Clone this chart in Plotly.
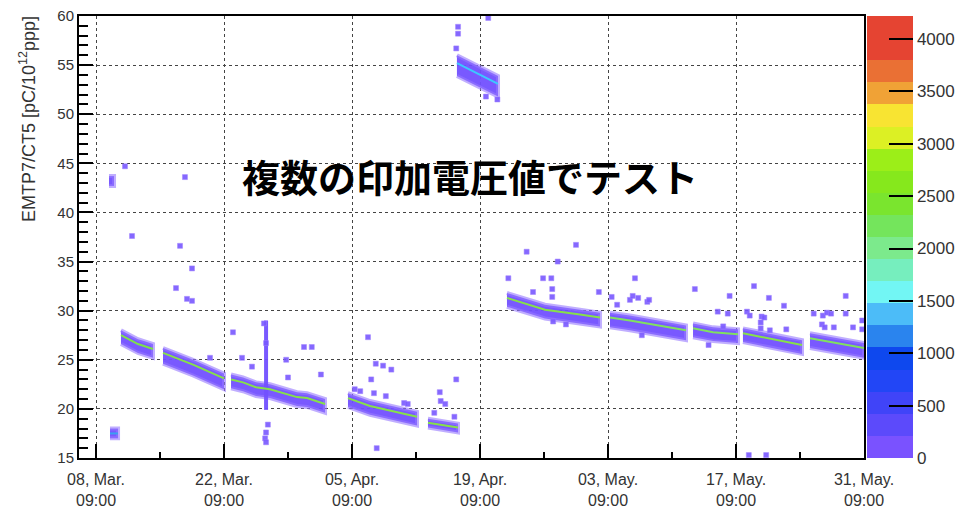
import pandas as pd
import plotly.graph_objects as go

# ---------------- data ----------------
base_time = pd.Timestamp("2016-03-08 09:00")   # first labelled tick
x_range_days = [-1.86, 84.0]
y_range = [15, 60]

# dense bands: centre-line points (day offset from base, value) + spread above / below
seg_days = [
    [1.53, 2.41],
    [1.42, 1.97],
    [2.73, 4.59, 5.25, 6.23],
    [7.33, 10.61, 14.0],
    [14.77, 16.08, 17.5, 19.03, 21.98, 23.08, 25.05],
    [27.56, 29.97, 35.11],
    [36.31, 39.59],
    [39.48, 41.78, 43.97],
    [44.95, 49.11, 52.94, 55.12],
    [56.22, 58.4, 64.53],
    [65.3, 67.49, 70.22],
    [70.76, 73.39, 77.22],
    [78.09, 80.6, 84.0],
]
seg_vals = [
    [17.5, 17.5],
    [43.2, 43.2],
    [27.5, 26.6, 26.4, 26.1],
    [25.7, 24.5, 23.1],
    [23.0, 22.7, 22.2, 22.0, 21.2, 21.1, 20.5],
    [21.1, 20.3, 19.2],
    [18.6, 18.1],
    [55.2, 54.1, 53.1],
    [31.3, 30.1, 29.6, 29.3],
    [29.3, 29.0, 28.0],
    [28.2, 27.8, 27.6],
    [27.7, 27.2, 26.5],
    [27.2, 26.8, 26.2],
]
seg_up = [0.5, 0.5, 0.5, 0.5, 0.5, 0.5, 0.4, 0.8, 0.5, 0.5, 0.5, 0.5, 0.5]
seg_dn = [0.5, 0.5, 0.9, 1.1, 0.9, 0.9, 0.5, 1.3, 0.9, 1.0, 0.9, 0.9, 1.0]

# vertical spike of entries
spike_day = [18.6]
spike_lo = [19.9]
spike_hi = [29.0]

# isolated entries
out_day = [3.17, 9.73, 3.94, 9.19, 10.5, 8.75, 9.95, 10.5, 12.47, 14.98, 18.37, 18.6,
           15.97, 17.06, 18.8, 18.6, 18.5, 18.6, 29.75, 22.75, 23.6, 20.8, 21.0, 24.6,
           30.6, 31.4, 32.3, 30.1, 30.4, 31.7, 33.7, 34.1, 30.7, 37.0, 37.6, 37.7, 38.2,
           39.2, 39.4, 28.3, 28.9, 39.6, 39.6, 39.4, 42.9, 43.9, 42.65, 45.1, 47.1, 52.5,
           50.5, 47.8, 48.9, 49.8, 49.9, 49.9, 50.0, 51.4, 55.0, 56.4, 57.0, 58.4, 58.7,
           58.95, 59.3, 60.3, 60.5, 59.7, 65.5, 69.3, 71.97, 73.6, 75.25, 68.0, 69.1,
           71.2, 71.5, 72.8, 73.1, 72.7, 72.7, 73.7, 75.5, 68.6, 67.0, 78.5, 79.5, 79.95,
           80.4, 80.7, 79.4, 79.7, 82.0, 82.0, 82.8, 83.8, 83.8, 71.4, 73.3]
out_val = [44.7, 43.6, 37.6, 36.6, 34.3, 32.3, 31.2, 31.0, 25.2, 27.8, 28.7, 26.7,
           25.2, 24.3, 18.4, 17.6, 17.0, 16.6, 27.3, 26.3, 26.3, 25.0, 23.2, 23.5,
           24.6, 24.4, 24.0, 23.0, 21.6, 21.3, 20.6, 20.5, 16.0, 19.6, 21.7, 20.8, 20.5,
           19.2, 23.0, 22.0, 21.8, 58.9, 58.2, 56.7, 59.8, 51.5, 51.8, 33.3, 36.0, 36.7,
           35.0, 31.9, 33.3, 33.3, 32.2, 31.4, 28.9, 28.6, 31.9, 31.4, 30.6, 31.1, 31.5,
           33.3, 31.3, 30.9, 31.1, 27.5, 32.2, 31.5, 32.5, 31.3, 30.5, 29.9, 29.7,
           29.9, 29.5, 29.4, 29.3, 28.8, 28.2, 28.0, 28.1, 28.4, 26.5, 29.7, 29.5, 29.8,
           29.7, 28.3, 28.6, 28.3, 31.5, 29.7, 28.3, 29.0, 28.1, 15.3, 15.3]

# x tick labels
tick_days = [0, 14, 28, 42, 56, 70, 84]
tick_text = ["08, Mar.<br>09:00", "22, Mar.<br>09:00", "05, Apr.<br>09:00",
             "19, Apr.<br>09:00", "03, May.<br>09:00", "17, May.<br>09:00",
             "31, May.<br>09:00"]

# colour scale (z axis)
z_max = 4220
z_ticks = [0, 500, 1000, 1500, 2000, 2500, 3000, 3500, 4000]
palette = ["#7a52ff", "#5c4afb", "#4044f8", "#2246f6", "#0e48ee", "#2a84ee",
           "#4cbcf8", "#72f6f4", "#76eebe", "#7cea8c", "#74e55c", "#7ae52e",
           "#86e81c", "#9cee18", "#dcf024", "#f8e432", "#f0a236", "#ea7034",
           "#e54432", "#e54432"]

# ---------------- styles ----------------
band_fill = "rgba(114,80,255,0.95)"
band_edge = "rgba(150,120,255,0.6)"
centre_cols = ["#3aa0f0", None, "#7ee04a", "#86e04a", "#86e04a", "#86e04a", "#86e04a",
               "#3cc8ff", "#86e04a", "#80e060", "#80e060", "#86e04a", "#80e060"]

PLOT_L, PLOT_R, PLOT_T, PLOT_B = 79, 864, 16, 458
W, H = 963, 511
PW, PH = PLOT_R - PLOT_L, PLOT_B - PLOT_T


def to_time(days):
    return [base_time + pd.to_timedelta(d, unit="D") for d in days]


fig = go.Figure()

for i, (dd, vv) in enumerate(zip(seg_days, seg_vals)):
    xs = to_time(dd + dd[::-1])
    ys = [v + seg_up[i] for v in vv] + [v - seg_dn[i] for v in vv[::-1]]
    fig.add_trace(go.Scatter(x=xs, y=ys, fill="toself", fillcolor=band_fill,
                             mode="lines", line=dict(color=band_edge, width=4),
                             hoverinfo="skip", showlegend=False))

for d, lo, hi in zip(spike_day, spike_lo, spike_hi):
    fig.add_trace(go.Scatter(x=to_time([d, d]), y=[lo, hi], mode="lines",
                             line=dict(color=band_fill, width=4),
                             hoverinfo="skip", showlegend=False))

fig.add_trace(go.Scatter(x=to_time(out_day), y=out_val, mode="markers",
                         marker=dict(symbol="square", size=5, color="rgba(120,88,255,0.9)",
                                     line=dict(width=1, color="rgba(160,130,255,0.5)")),
                         hoverinfo="skip", showlegend=False))

for i, (dd, vv) in enumerate(zip(seg_days, seg_vals)):
    if centre_cols[i] is None:
        continue
    fig.add_trace(go.Scatter(x=to_time(dd), y=vv, mode="lines",
                             line=dict(color=centre_cols[i], width=2),
                             hoverinfo="skip", showlegend=False))

# colour bar carrier
n = len(palette)
cscale = []
for k, c in enumerate(palette):
    cscale.append([k / n, c])
    cscale.append([(k + 1) / n, c])
fig.add_trace(go.Scatter(
    x=to_time([0, 0]), y=[15, 15], mode="markers",
    marker=dict(size=1, opacity=0, color=[0, z_max], cmin=0, cmax=z_max,
                colorscale=cscale, showscale=True,
                colorbar=dict(x=(867 - PLOT_L) / PW, xanchor="left", xref="paper",
                              y=0.5, yanchor="middle", len=1, lenmode="fraction",
                              thickness=46, thicknessmode="pixels", xpad=0, ypad=0,
                              outlinewidth=0, ticks="inside", ticklen=24,
                              tickcolor="black", tickwidth=1.5,
                              tickvals=z_ticks,
                              tickfont=dict(family="Liberation Sans", size=17, color="#333"))),
    hoverinfo="skip", showlegend=False))

fig.update_layout(
    width=W, height=H,
    margin=dict(l=PLOT_L, r=W - PLOT_R, t=PLOT_T, b=H - PLOT_B, autoexpand=False),
    paper_bgcolor="white", plot_bgcolor="white",
    font=dict(family="Liberation Sans", color="#333"),
    xaxis=dict(type="date",
               range=to_time(x_range_days),
               tickmode="array", tickvals=to_time(tick_days), ticktext=tick_text,
               ticks="inside", ticklen=14, tickcolor="black", tickwidth=1.5,
               minor=dict(tickmode="linear", tick0=base_time, dtick=7 * 86400000,
                          ticks="inside", ticklen=6, tickcolor="black", showgrid=False),
               showgrid=True, gridcolor="#444", griddash="dot", gridwidth=1,
               showline=True, linecolor="black", linewidth=2, mirror=True,
               ticklabelstandoff=6,
               tickfont=dict(size=16, color="#333"), zeroline=False),
    yaxis=dict(range=y_range, tickmode="linear", tick0=15, dtick=5,
               ticks="inside", ticklen=14, tickcolor="black", tickwidth=1.5,
               minor=dict(dtick=1, ticks="inside", ticklen=9, tickcolor="black",
                          showgrid=False),
               showgrid=True, gridcolor="#444", griddash="dot", gridwidth=1,
               showline=True, linecolor="black", linewidth=2, mirror=True,
               tickfont=dict(size=15, color="#333"), zeroline=False),
    annotations=[
        dict(text="EMTP7/CT5 [pC/10<sup>12</sup>ppp]", textangle=-90,
             xref="paper", yref="paper", x=(27 - PLOT_L) / PW, y=(PLOT_B - 14) / PH,
             xanchor="center", yanchor="top", showarrow=False,
             font=dict(size=18, color="#333")),
        dict(text="<b>複数の印加電圧値でテスト</b>", xref="paper", yref="paper",
             x=(470 - PLOT_L) / PW, y=(PLOT_B - 175) / PH, xanchor="center", yanchor="middle",
             showarrow=False,
             font=dict(family="Noto Sans CJK JP", size=38, color="black")),
    ],
)

fig.write_html("out.html",
               config={"displayModeBar": False},
               post_script="document.body.style.margin='0';"
                           "document.body.style.overflow='hidden';")
